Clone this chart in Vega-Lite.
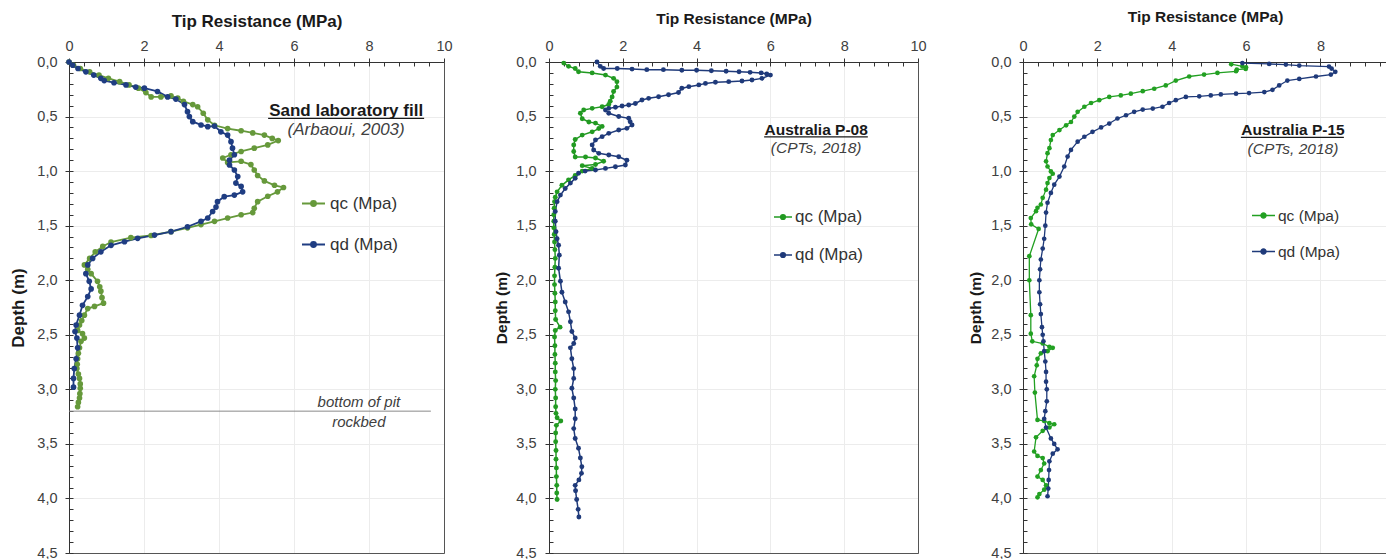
{
  "$schema": "https://vega.github.io/schema/vega-lite/v6.json",
  "padding": {"left": 9, "top": 8, "right": 0, "bottom": 6},
  "autosize": {"type": "pad"},
  "background": "white",
  "config": {
    "font": "Liberation Sans",
    "view": {"stroke": "#555", "strokeWidth": 1},
    "axis": {"labelFont": "Liberation Sans", "titleFont": "Liberation Sans", "domainWidth": 1, "domainColor": "#333"}
  },
  "bounds": "flush",
  "spacing": 105,
  "resolve": {
    "scale": {"color": "independent", "x": "independent", "y": "independent"},
    "legend": {"color": "independent"}
  },
  "datasets": {
    "sand": [
      {"s": "qc (Mpa)", "d": 0.00, "q": 0.00}, {"s": "qc (Mpa)", "d": 0.03, "q": 0.12}, {"s": "qc (Mpa)", "d": 0.06, "q": 0.30},
      {"s": "qc (Mpa)", "d": 0.09, "q": 0.55}, {"s": "qc (Mpa)", "d": 0.12, "q": 0.80}, {"s": "qc (Mpa)", "d": 0.15, "q": 1.05},
      {"s": "qc (Mpa)", "d": 0.18, "q": 1.35}, {"s": "qc (Mpa)", "d": 0.21, "q": 1.60}, {"s": "qc (Mpa)", "d": 0.24, "q": 1.85},
      {"s": "qc (Mpa)", "d": 0.28, "q": 2.05}, {"s": "qc (Mpa)", "d": 0.32, "q": 2.19}, {"s": "qc (Mpa)", "d": 0.32, "q": 2.45},
      {"s": "qc (Mpa)", "d": 0.31, "q": 2.72}, {"s": "qc (Mpa)", "d": 0.33, "q": 2.90}, {"s": "qc (Mpa)", "d": 0.36, "q": 3.05},
      {"s": "qc (Mpa)", "d": 0.39, "q": 3.30}, {"s": "qc (Mpa)", "d": 0.41, "q": 3.43}, {"s": "qc (Mpa)", "d": 0.47, "q": 3.58},
      {"s": "qc (Mpa)", "d": 0.53, "q": 3.70}, {"s": "qc (Mpa)", "d": 0.58, "q": 3.88}, {"s": "qc (Mpa)", "d": 0.61, "q": 4.23},
      {"s": "qc (Mpa)", "d": 0.63, "q": 4.59}, {"s": "qc (Mpa)", "d": 0.65, "q": 4.90}, {"s": "qc (Mpa)", "d": 0.67, "q": 5.21},
      {"s": "qc (Mpa)", "d": 0.70, "q": 5.42}, {"s": "qc (Mpa)", "d": 0.72, "q": 5.58}, {"s": "qc (Mpa)", "d": 0.76, "q": 5.30},
      {"s": "qc (Mpa)", "d": 0.79, "q": 4.94}, {"s": "qc (Mpa)", "d": 0.82, "q": 4.59}, {"s": "qc (Mpa)", "d": 0.85, "q": 4.32},
      {"s": "qc (Mpa)", "d": 0.88, "q": 4.10}, {"s": "qc (Mpa)", "d": 0.92, "q": 4.23}, {"s": "qc (Mpa)", "d": 0.91, "q": 4.59},
      {"s": "qc (Mpa)", "d": 0.94, "q": 4.85}, {"s": "qc (Mpa)", "d": 0.99, "q": 4.94}, {"s": "qc (Mpa)", "d": 1.04, "q": 5.03},
      {"s": "qc (Mpa)", "d": 1.09, "q": 5.21}, {"s": "qc (Mpa)", "d": 1.13, "q": 5.48}, {"s": "qc (Mpa)", "d": 1.15, "q": 5.72},
      {"s": "qc (Mpa)", "d": 1.19, "q": 5.56}, {"s": "qc (Mpa)", "d": 1.23, "q": 5.30}, {"s": "qc (Mpa)", "d": 1.28, "q": 5.03},
      {"s": "qc (Mpa)", "d": 1.34, "q": 4.94}, {"s": "qc (Mpa)", "d": 1.38, "q": 4.90}, {"s": "qc (Mpa)", "d": 1.40, "q": 4.59},
      {"s": "qc (Mpa)", "d": 1.43, "q": 4.23}, {"s": "qc (Mpa)", "d": 1.46, "q": 3.88}, {"s": "qc (Mpa)", "d": 1.49, "q": 3.52},
      {"s": "qc (Mpa)", "d": 1.52, "q": 3.16}, {"s": "qc (Mpa)", "d": 1.555, "q": 2.72}, {"s": "qc (Mpa)", "d": 1.59, "q": 2.19},
      {"s": "qc (Mpa)", "d": 1.61, "q": 1.65}, {"s": "qc (Mpa)", "d": 1.65, "q": 1.12}, {"s": "qc (Mpa)", "d": 1.69, "q": 0.90},
      {"s": "qc (Mpa)", "d": 1.74, "q": 0.70}, {"s": "qc (Mpa)", "d": 1.80, "q": 0.55}, {"s": "qc (Mpa)", "d": 1.86, "q": 0.41},
      {"s": "qc (Mpa)", "d": 1.90, "q": 0.50}, {"s": "qc (Mpa)", "d": 1.94, "q": 0.59}, {"s": "qc (Mpa)", "d": 2.01, "q": 0.76},
      {"s": "qc (Mpa)", "d": 2.06, "q": 0.82}, {"s": "qc (Mpa)", "d": 2.10, "q": 0.85}, {"s": "qc (Mpa)", "d": 2.16, "q": 0.88},
      {"s": "qc (Mpa)", "d": 2.21, "q": 0.92}, {"s": "qc (Mpa)", "d": 2.24, "q": 0.68}, {"s": "qc (Mpa)", "d": 2.26, "q": 0.50},
      {"s": "qc (Mpa)", "d": 2.32, "q": 0.41}, {"s": "qc (Mpa)", "d": 2.37, "q": 0.34}, {"s": "qc (Mpa)", "d": 2.41, "q": 0.28},
      {"s": "qc (Mpa)", "d": 2.46, "q": 0.23}, {"s": "qc (Mpa)", "d": 2.49, "q": 0.36}, {"s": "qc (Mpa)", "d": 2.53, "q": 0.41},
      {"s": "qc (Mpa)", "d": 2.56, "q": 0.32}, {"s": "qc (Mpa)", "d": 2.62, "q": 0.28}, {"s": "qc (Mpa)", "d": 2.67, "q": 0.25},
      {"s": "qc (Mpa)", "d": 2.72, "q": 0.23}, {"s": "qc (Mpa)", "d": 2.77, "q": 0.22}, {"s": "qc (Mpa)", "d": 2.81, "q": 0.21},
      {"s": "qc (Mpa)", "d": 2.86, "q": 0.25}, {"s": "qc (Mpa)", "d": 2.90, "q": 0.28}, {"s": "qc (Mpa)", "d": 2.95, "q": 0.30},
      {"s": "qc (Mpa)", "d": 2.99, "q": 0.30}, {"s": "qc (Mpa)", "d": 3.04, "q": 0.29}, {"s": "qc (Mpa)", "d": 3.08, "q": 0.28},
      {"s": "qc (Mpa)", "d": 3.12, "q": 0.25}, {"s": "qc (Mpa)", "d": 3.16, "q": 0.23},
      {"s": "qd (Mpa)", "d": 0.00, "q": 0.00}, {"s": "qd (Mpa)", "d": 0.03, "q": 0.10}, {"s": "qd (Mpa)", "d": 0.06, "q": 0.24},
      {"s": "qd (Mpa)", "d": 0.09, "q": 0.45}, {"s": "qd (Mpa)", "d": 0.12, "q": 0.66}, {"s": "qd (Mpa)", "d": 0.15, "q": 0.85},
      {"s": "qd (Mpa)", "d": 0.17, "q": 0.94}, {"s": "qd (Mpa)", "d": 0.19, "q": 1.20}, {"s": "qd (Mpa)", "d": 0.21, "q": 1.52},
      {"s": "qd (Mpa)", "d": 0.23, "q": 1.78}, {"s": "qd (Mpa)", "d": 0.24, "q": 2.01}, {"s": "qd (Mpa)", "d": 0.27, "q": 2.36},
      {"s": "qd (Mpa)", "d": 0.32, "q": 2.63}, {"s": "qd (Mpa)", "d": 0.34, "q": 2.85}, {"s": "qd (Mpa)", "d": 0.39, "q": 3.08},
      {"s": "qd (Mpa)", "d": 0.455, "q": 3.16}, {"s": "qd (Mpa)", "d": 0.50, "q": 3.21}, {"s": "qd (Mpa)", "d": 0.547, "q": 3.30},
      {"s": "qd (Mpa)", "d": 0.577, "q": 3.52}, {"s": "qd (Mpa)", "d": 0.593, "q": 3.70}, {"s": "qd (Mpa)", "d": 0.587, "q": 3.88},
      {"s": "qd (Mpa)", "d": 0.64, "q": 4.05}, {"s": "qd (Mpa)", "d": 0.67, "q": 4.23}, {"s": "qd (Mpa)", "d": 0.73, "q": 4.32},
      {"s": "qd (Mpa)", "d": 0.79, "q": 4.36}, {"s": "qd (Mpa)", "d": 0.85, "q": 4.41}, {"s": "qd (Mpa)", "d": 0.90, "q": 4.28},
      {"s": "qd (Mpa)", "d": 0.944, "q": 4.28}, {"s": "qd (Mpa)", "d": 0.99, "q": 4.41}, {"s": "qd (Mpa)", "d": 1.05, "q": 4.50},
      {"s": "qd (Mpa)", "d": 1.11, "q": 4.45}, {"s": "qd (Mpa)", "d": 1.14, "q": 4.59}, {"s": "qd (Mpa)", "d": 1.19, "q": 4.63},
      {"s": "qd (Mpa)", "d": 1.22, "q": 4.41}, {"s": "qd (Mpa)", "d": 1.234, "q": 4.14}, {"s": "qd (Mpa)", "d": 1.28, "q": 3.96},
      {"s": "qd (Mpa)", "d": 1.33, "q": 3.92}, {"s": "qd (Mpa)", "d": 1.37, "q": 3.83}, {"s": "qd (Mpa)", "d": 1.43, "q": 3.70},
      {"s": "qd (Mpa)", "d": 1.46, "q": 3.52}, {"s": "qd (Mpa)", "d": 1.51, "q": 3.16}, {"s": "qd (Mpa)", "d": 1.555, "q": 2.72},
      {"s": "qd (Mpa)", "d": 1.586, "q": 2.28}, {"s": "qd (Mpa)", "d": 1.616, "q": 1.83}, {"s": "qd (Mpa)", "d": 1.647, "q": 1.48},
      {"s": "qd (Mpa)", "d": 1.68, "q": 1.12}, {"s": "qd (Mpa)", "d": 1.74, "q": 0.85}, {"s": "qd (Mpa)", "d": 1.80, "q": 0.63},
      {"s": "qd (Mpa)", "d": 1.86, "q": 0.50}, {"s": "qd (Mpa)", "d": 1.94, "q": 0.45}, {"s": "qd (Mpa)", "d": 2.01, "q": 0.54},
      {"s": "qd (Mpa)", "d": 2.08, "q": 0.59}, {"s": "qd (Mpa)", "d": 2.15, "q": 0.50}, {"s": "qd (Mpa)", "d": 2.23, "q": 0.36},
      {"s": "qd (Mpa)", "d": 2.32, "q": 0.28}, {"s": "qd (Mpa)", "d": 2.41, "q": 0.19}, {"s": "qd (Mpa)", "d": 2.47, "q": 0.16},
      {"s": "qd (Mpa)", "d": 2.53, "q": 0.21}, {"s": "qd (Mpa)", "d": 2.62, "q": 0.23}, {"s": "qd (Mpa)", "d": 2.72, "q": 0.19},
      {"s": "qd (Mpa)", "d": 2.81, "q": 0.14}, {"s": "qd (Mpa)", "d": 2.90, "q": 0.12}, {"s": "qd (Mpa)", "d": 2.98, "q": 0.12}
    ],
    "p08": [
      {"s": "qc (Mpa)", "d": 0.01, "q": 0.40}, {"s": "qc (Mpa)", "d": 0.04, "q": 0.53}, {"s": "qc (Mpa)", "d": 0.06, "q": 0.71},
      {"s": "qc (Mpa)", "d": 0.09, "q": 0.80}, {"s": "qc (Mpa)", "d": 0.10, "q": 1.17}, {"s": "qc (Mpa)", "d": 0.12, "q": 1.53},
      {"s": "qc (Mpa)", "d": 0.15, "q": 1.75}, {"s": "qc (Mpa)", "d": 0.18, "q": 1.84}, {"s": "qc (Mpa)", "d": 0.23, "q": 1.84},
      {"s": "qc (Mpa)", "d": 0.27, "q": 1.75}, {"s": "qc (Mpa)", "d": 0.32, "q": 1.71}, {"s": "qc (Mpa)", "d": 0.36, "q": 1.66},
      {"s": "qc (Mpa)", "d": 0.39, "q": 1.62}, {"s": "qc (Mpa)", "d": 0.41, "q": 1.44}, {"s": "qc (Mpa)", "d": 0.425, "q": 1.17},
      {"s": "qc (Mpa)", "d": 0.44, "q": 0.94}, {"s": "qc (Mpa)", "d": 0.47, "q": 0.85}, {"s": "qc (Mpa)", "d": 0.52, "q": 0.90},
      {"s": "qc (Mpa)", "d": 0.55, "q": 1.08}, {"s": "qc (Mpa)", "d": 0.56, "q": 1.26}, {"s": "qc (Mpa)", "d": 0.59, "q": 1.44},
      {"s": "qc (Mpa)", "d": 0.61, "q": 1.35}, {"s": "qc (Mpa)", "d": 0.64, "q": 1.17}, {"s": "qc (Mpa)", "d": 0.67, "q": 0.90},
      {"s": "qc (Mpa)", "d": 0.71, "q": 0.71}, {"s": "qc (Mpa)", "d": 0.76, "q": 0.67}, {"s": "qc (Mpa)", "d": 0.82, "q": 0.67},
      {"s": "qc (Mpa)", "d": 0.87, "q": 0.71}, {"s": "qc (Mpa)", "d": 0.87, "q": 0.99}, {"s": "qc (Mpa)", "d": 0.88, "q": 1.26},
      {"s": "qc (Mpa)", "d": 0.91, "q": 1.48}, {"s": "qc (Mpa)", "d": 0.94, "q": 1.26}, {"s": "qc (Mpa)", "d": 0.95, "q": 0.90},
      {"s": "qc (Mpa)", "d": 0.975, "q": 1.17}, {"s": "qc (Mpa)", "d": 1.00, "q": 0.90}, {"s": "qc (Mpa)", "d": 1.04, "q": 0.71},
      {"s": "qc (Mpa)", "d": 1.08, "q": 0.53}, {"s": "qc (Mpa)", "d": 1.13, "q": 0.35}, {"s": "qc (Mpa)", "d": 1.19, "q": 0.22},
      {"s": "qc (Mpa)", "d": 1.24, "q": 0.17}, {"s": "qc (Mpa)", "d": 1.28, "q": 0.15}, {"s": "qc (Mpa)", "d": 1.34, "q": 0.14},
      {"s": "qc (Mpa)", "d": 1.40, "q": 0.13}, {"s": "qc (Mpa)", "d": 1.46, "q": 0.13}, {"s": "qc (Mpa)", "d": 1.52, "q": 0.13},
      {"s": "qc (Mpa)", "d": 1.58, "q": 0.14}, {"s": "qc (Mpa)", "d": 1.65, "q": 0.15}, {"s": "qc (Mpa)", "d": 1.72, "q": 0.16},
      {"s": "qc (Mpa)", "d": 1.80, "q": 0.17}, {"s": "qc (Mpa)", "d": 1.88, "q": 0.16}, {"s": "qc (Mpa)", "d": 1.96, "q": 0.15},
      {"s": "qc (Mpa)", "d": 2.04, "q": 0.15}, {"s": "qc (Mpa)", "d": 2.12, "q": 0.16}, {"s": "qc (Mpa)", "d": 2.20, "q": 0.17},
      {"s": "qc (Mpa)", "d": 2.28, "q": 0.17}, {"s": "qc (Mpa)", "d": 2.36, "q": 0.18}, {"s": "qc (Mpa)", "d": 2.43, "q": 0.30},
      {"s": "qc (Mpa)", "d": 2.46, "q": 0.17}, {"s": "qc (Mpa)", "d": 2.52, "q": 0.15}, {"s": "qc (Mpa)", "d": 2.60, "q": 0.16},
      {"s": "qc (Mpa)", "d": 2.68, "q": 0.16}, {"s": "qc (Mpa)", "d": 2.76, "q": 0.17}, {"s": "qc (Mpa)", "d": 2.84, "q": 0.17},
      {"s": "qc (Mpa)", "d": 2.92, "q": 0.18}, {"s": "qc (Mpa)", "d": 3.00, "q": 0.17}, {"s": "qc (Mpa)", "d": 3.08, "q": 0.18},
      {"s": "qc (Mpa)", "d": 3.16, "q": 0.18}, {"s": "qc (Mpa)", "d": 3.22, "q": 0.19}, {"s": "qc (Mpa)", "d": 3.26, "q": 0.22},
      {"s": "qc (Mpa)", "d": 3.29, "q": 0.32}, {"s": "qc (Mpa)", "d": 3.33, "q": 0.20}, {"s": "qc (Mpa)", "d": 3.40, "q": 0.18},
      {"s": "qc (Mpa)", "d": 3.48, "q": 0.18}, {"s": "qc (Mpa)", "d": 3.56, "q": 0.19}, {"s": "qc (Mpa)", "d": 3.64, "q": 0.19},
      {"s": "qc (Mpa)", "d": 3.72, "q": 0.20}, {"s": "qc (Mpa)", "d": 3.80, "q": 0.20}, {"s": "qc (Mpa)", "d": 3.88, "q": 0.21},
      {"s": "qc (Mpa)", "d": 3.95, "q": 0.21}, {"s": "qc (Mpa)", "d": 4.01, "q": 0.22},
      {"s": "qd (Mpa)", "d": 0.00, "q": 1.30}, {"s": "qd (Mpa)", "d": 0.04, "q": 1.39}, {"s": "qd (Mpa)", "d": 0.06, "q": 1.48},
      {"s": "qd (Mpa)", "d": 0.06, "q": 1.85}, {"s": "qd (Mpa)", "d": 0.065, "q": 2.25}, {"s": "qd (Mpa)", "d": 0.07, "q": 2.65},
      {"s": "qd (Mpa)", "d": 0.07, "q": 3.10}, {"s": "qd (Mpa)", "d": 0.075, "q": 3.60}, {"s": "qd (Mpa)", "d": 0.075, "q": 4.00},
      {"s": "qd (Mpa)", "d": 0.08, "q": 4.40}, {"s": "qd (Mpa)", "d": 0.085, "q": 4.80}, {"s": "qd (Mpa)", "d": 0.09, "q": 5.15},
      {"s": "qd (Mpa)", "d": 0.095, "q": 5.45}, {"s": "qd (Mpa)", "d": 0.10, "q": 5.75}, {"s": "qd (Mpa)", "d": 0.11, "q": 5.90},
      {"s": "qd (Mpa)", "d": 0.12, "q": 6.00}, {"s": "qd (Mpa)", "d": 0.15, "q": 5.77}, {"s": "qd (Mpa)", "d": 0.165, "q": 5.50},
      {"s": "qd (Mpa)", "d": 0.174, "q": 5.23}, {"s": "qd (Mpa)", "d": 0.18, "q": 4.87}, {"s": "qd (Mpa)", "d": 0.186, "q": 4.51},
      {"s": "qd (Mpa)", "d": 0.196, "q": 4.24}, {"s": "qd (Mpa)", "d": 0.21, "q": 4.06}, {"s": "qd (Mpa)", "d": 0.226, "q": 3.79},
      {"s": "qd (Mpa)", "d": 0.24, "q": 3.60}, {"s": "qd (Mpa)", "d": 0.28, "q": 3.51}, {"s": "qd (Mpa)", "d": 0.30, "q": 3.24},
      {"s": "qd (Mpa)", "d": 0.318, "q": 2.97}, {"s": "qd (Mpa)", "d": 0.333, "q": 2.70}, {"s": "qd (Mpa)", "d": 0.348, "q": 2.52},
      {"s": "qd (Mpa)", "d": 0.38, "q": 2.34}, {"s": "qd (Mpa)", "d": 0.394, "q": 2.16}, {"s": "qd (Mpa)", "d": 0.403, "q": 1.98},
      {"s": "qd (Mpa)", "d": 0.415, "q": 1.80}, {"s": "qd (Mpa)", "d": 0.425, "q": 1.62}, {"s": "qd (Mpa)", "d": 0.44, "q": 1.53},
      {"s": "qd (Mpa)", "d": 0.47, "q": 1.62}, {"s": "qd (Mpa)", "d": 0.50, "q": 1.89}, {"s": "qd (Mpa)", "d": 0.516, "q": 2.16},
      {"s": "qd (Mpa)", "d": 0.547, "q": 2.20}, {"s": "qd (Mpa)", "d": 0.577, "q": 2.25}, {"s": "qd (Mpa)", "d": 0.608, "q": 2.11},
      {"s": "qd (Mpa)", "d": 0.623, "q": 1.89}, {"s": "qd (Mpa)", "d": 0.654, "q": 1.62}, {"s": "qd (Mpa)", "d": 0.684, "q": 1.44},
      {"s": "qd (Mpa)", "d": 0.715, "q": 1.26}, {"s": "qd (Mpa)", "d": 0.76, "q": 1.17}, {"s": "qd (Mpa)", "d": 0.807, "q": 1.21},
      {"s": "qd (Mpa)", "d": 0.837, "q": 1.35}, {"s": "qd (Mpa)", "d": 0.852, "q": 1.62}, {"s": "qd (Mpa)", "d": 0.868, "q": 1.89},
      {"s": "qd (Mpa)", "d": 0.90, "q": 2.11}, {"s": "qd (Mpa)", "d": 0.944, "q": 2.07}, {"s": "qd (Mpa)", "d": 0.96, "q": 1.80},
      {"s": "qd (Mpa)", "d": 0.975, "q": 1.53}, {"s": "qd (Mpa)", "d": 0.99, "q": 1.26}, {"s": "qd (Mpa)", "d": 1.00, "q": 0.98},
      {"s": "qd (Mpa)", "d": 1.02, "q": 0.80}, {"s": "qd (Mpa)", "d": 1.066, "q": 0.71}, {"s": "qd (Mpa)", "d": 1.11, "q": 0.58},
      {"s": "qd (Mpa)", "d": 1.16, "q": 0.44}, {"s": "qd (Mpa)", "d": 1.22, "q": 0.31}, {"s": "qd (Mpa)", "d": 1.28, "q": 0.22},
      {"s": "qd (Mpa)", "d": 1.37, "q": 0.17}, {"s": "qd (Mpa)", "d": 1.46, "q": 0.17}, {"s": "qd (Mpa)", "d": 1.555, "q": 0.19},
      {"s": "qd (Mpa)", "d": 1.62, "q": 0.22}, {"s": "qd (Mpa)", "d": 1.68, "q": 0.26}, {"s": "qd (Mpa)", "d": 1.77, "q": 0.28},
      {"s": "qd (Mpa)", "d": 1.89, "q": 0.26}, {"s": "qd (Mpa)", "d": 2.01, "q": 0.31}, {"s": "qd (Mpa)", "d": 2.11, "q": 0.35},
      {"s": "qd (Mpa)", "d": 2.20, "q": 0.44}, {"s": "qd (Mpa)", "d": 2.29, "q": 0.53}, {"s": "qd (Mpa)", "d": 2.38, "q": 0.58},
      {"s": "qd (Mpa)", "d": 2.47, "q": 0.62}, {"s": "qd (Mpa)", "d": 2.53, "q": 0.71}, {"s": "qd (Mpa)", "d": 2.58, "q": 0.67},
      {"s": "qd (Mpa)", "d": 2.62, "q": 0.58}, {"s": "qd (Mpa)", "d": 2.72, "q": 0.62}, {"s": "qd (Mpa)", "d": 2.81, "q": 0.67},
      {"s": "qd (Mpa)", "d": 2.90, "q": 0.67}, {"s": "qd (Mpa)", "d": 2.99, "q": 0.62}, {"s": "qd (Mpa)", "d": 3.08, "q": 0.67},
      {"s": "qd (Mpa)", "d": 3.18, "q": 0.71}, {"s": "qd (Mpa)", "d": 3.27, "q": 0.71}, {"s": "qd (Mpa)", "d": 3.36, "q": 0.67},
      {"s": "qd (Mpa)", "d": 3.45, "q": 0.71}, {"s": "qd (Mpa)", "d": 3.54, "q": 0.80}, {"s": "qd (Mpa)", "d": 3.63, "q": 0.85},
      {"s": "qd (Mpa)", "d": 3.71, "q": 0.89}, {"s": "qd (Mpa)", "d": 3.77, "q": 0.88}, {"s": "qd (Mpa)", "d": 3.83, "q": 0.81},
      {"s": "qd (Mpa)", "d": 3.88, "q": 0.71}, {"s": "qd (Mpa)", "d": 3.93, "q": 0.72}, {"s": "qd (Mpa)", "d": 4.01, "q": 0.75},
      {"s": "qd (Mpa)", "d": 4.10, "q": 0.79}, {"s": "qd (Mpa)", "d": 4.17, "q": 0.81}
    ],
    "p15": [
      {"s": "qc (Mpa)", "d": 0.02, "q": 5.60}, {"s": "qc (Mpa)", "d": 0.04, "q": 5.90}, {"s": "qc (Mpa)", "d": 0.05, "q": 6.00},
      {"s": "qc (Mpa)", "d": 0.064, "q": 5.99}, {"s": "qc (Mpa)", "d": 0.07, "q": 5.75}, {"s": "qc (Mpa)", "d": 0.085, "q": 5.73},
      {"s": "qc (Mpa)", "d": 0.10, "q": 5.23}, {"s": "qc (Mpa)", "d": 0.115, "q": 4.87}, {"s": "qc (Mpa)", "d": 0.133, "q": 4.47},
      {"s": "qc (Mpa)", "d": 0.17, "q": 4.11}, {"s": "qc (Mpa)", "d": 0.215, "q": 3.84}, {"s": "qc (Mpa)", "d": 0.245, "q": 3.53},
      {"s": "qc (Mpa)", "d": 0.267, "q": 3.22}, {"s": "qc (Mpa)", "d": 0.29, "q": 2.90}, {"s": "qc (Mpa)", "d": 0.306, "q": 2.63},
      {"s": "qc (Mpa)", "d": 0.32, "q": 2.32}, {"s": "qc (Mpa)", "d": 0.35, "q": 2.05}, {"s": "qc (Mpa)", "d": 0.376, "q": 1.83},
      {"s": "qc (Mpa)", "d": 0.41, "q": 1.65}, {"s": "qc (Mpa)", "d": 0.457, "q": 1.47}, {"s": "qc (Mpa)", "d": 0.50, "q": 1.38},
      {"s": "qc (Mpa)", "d": 0.55, "q": 1.29}, {"s": "qc (Mpa)", "d": 0.58, "q": 1.16}, {"s": "qc (Mpa)", "d": 0.624, "q": 0.98},
      {"s": "qc (Mpa)", "d": 0.67, "q": 0.80}, {"s": "qc (Mpa)", "d": 0.715, "q": 0.75}, {"s": "qc (Mpa)", "d": 0.79, "q": 0.71},
      {"s": "qc (Mpa)", "d": 0.836, "q": 0.66}, {"s": "qc (Mpa)", "d": 0.91, "q": 0.62}, {"s": "qc (Mpa)", "d": 0.958, "q": 0.66},
      {"s": "qc (Mpa)", "d": 1.003, "q": 0.75}, {"s": "qc (Mpa)", "d": 1.024, "q": 0.80}, {"s": "qc (Mpa)", "d": 1.064, "q": 0.71},
      {"s": "qc (Mpa)", "d": 1.11, "q": 0.66}, {"s": "qc (Mpa)", "d": 1.17, "q": 0.62}, {"s": "qc (Mpa)", "d": 1.245, "q": 0.53},
      {"s": "qc (Mpa)", "d": 1.306, "q": 0.48}, {"s": "qc (Mpa)", "d": 1.336, "q": 0.39}, {"s": "qc (Mpa)", "d": 1.367, "q": 0.35},
      {"s": "qc (Mpa)", "d": 1.43, "q": 0.21}, {"s": "qc (Mpa)", "d": 1.488, "q": 0.22}, {"s": "qc (Mpa)", "d": 1.53, "q": 0.42},
      {"s": "qc (Mpa)", "d": 1.78, "q": 0.17}, {"s": "qc (Mpa)", "d": 2.00, "q": 0.17}, {"s": "qc (Mpa)", "d": 2.32, "q": 0.21},
      {"s": "qc (Mpa)", "d": 2.49, "q": 0.21}, {"s": "qc (Mpa)", "d": 2.56, "q": 0.25}, {"s": "qc (Mpa)", "d": 2.58, "q": 0.53},
      {"s": "qc (Mpa)", "d": 2.61, "q": 0.71}, {"s": "qc (Mpa)", "d": 2.62, "q": 0.80}, {"s": "qc (Mpa)", "d": 2.65, "q": 0.66},
      {"s": "qc (Mpa)", "d": 2.67, "q": 0.48}, {"s": "qc (Mpa)", "d": 2.72, "q": 0.39}, {"s": "qc (Mpa)", "d": 2.78, "q": 0.37},
      {"s": "qc (Mpa)", "d": 2.88, "q": 0.30}, {"s": "qc (Mpa)", "d": 3.03, "q": 0.32}, {"s": "qc (Mpa)", "d": 3.28, "q": 0.39},
      {"s": "qc (Mpa)", "d": 3.29, "q": 0.57}, {"s": "qc (Mpa)", "d": 3.31, "q": 0.71}, {"s": "qc (Mpa)", "d": 3.32, "q": 0.84},
      {"s": "qc (Mpa)", "d": 3.35, "q": 0.71}, {"s": "qc (Mpa)", "d": 3.38, "q": 0.53}, {"s": "qc (Mpa)", "d": 3.44, "q": 0.35},
      {"s": "qc (Mpa)", "d": 3.57, "q": 0.30}, {"s": "qc (Mpa)", "d": 3.61, "q": 0.39}, {"s": "qc (Mpa)", "d": 3.63, "q": 0.53},
      {"s": "qc (Mpa)", "d": 3.68, "q": 0.57}, {"s": "qc (Mpa)", "d": 3.74, "q": 0.48}, {"s": "qc (Mpa)", "d": 3.80, "q": 0.39},
      {"s": "qc (Mpa)", "d": 3.83, "q": 0.53}, {"s": "qc (Mpa)", "d": 3.88, "q": 0.62}, {"s": "qc (Mpa)", "d": 3.92, "q": 0.57},
      {"s": "qc (Mpa)", "d": 3.96, "q": 0.44}, {"s": "qc (Mpa)", "d": 3.99, "q": 0.39},
      {"s": "qd (Mpa)", "d": 0.01, "q": 5.90}, {"s": "qd (Mpa)", "d": 0.018, "q": 6.62}, {"s": "qd (Mpa)", "d": 0.024, "q": 7.07},
      {"s": "qd (Mpa)", "d": 0.033, "q": 7.43}, {"s": "qd (Mpa)", "d": 0.042, "q": 8.23}, {"s": "qd (Mpa)", "d": 0.06, "q": 8.30},
      {"s": "qd (Mpa)", "d": 0.09, "q": 8.40}, {"s": "qd (Mpa)", "d": 0.115, "q": 8.28}, {"s": "qd (Mpa)", "d": 0.133, "q": 7.88},
      {"s": "qd (Mpa)", "d": 0.155, "q": 7.43}, {"s": "qd (Mpa)", "d": 0.17, "q": 7.11}, {"s": "qd (Mpa)", "d": 0.215, "q": 6.89},
      {"s": "qd (Mpa)", "d": 0.255, "q": 6.71}, {"s": "qd (Mpa)", "d": 0.276, "q": 6.49}, {"s": "qd (Mpa)", "d": 0.285, "q": 6.08},
      {"s": "qd (Mpa)", "d": 0.29, "q": 5.73}, {"s": "qd (Mpa)", "d": 0.297, "q": 5.32}, {"s": "qd (Mpa)", "d": 0.306, "q": 5.05},
      {"s": "qd (Mpa)", "d": 0.315, "q": 4.74}, {"s": "qd (Mpa)", "d": 0.32, "q": 4.38}, {"s": "qd (Mpa)", "d": 0.35, "q": 4.11},
      {"s": "qd (Mpa)", "d": 0.376, "q": 3.93}, {"s": "qd (Mpa)", "d": 0.41, "q": 3.75}, {"s": "qd (Mpa)", "d": 0.427, "q": 3.49},
      {"s": "qd (Mpa)", "d": 0.436, "q": 3.22}, {"s": "qd (Mpa)", "d": 0.457, "q": 2.99}, {"s": "qd (Mpa)", "d": 0.488, "q": 2.77},
      {"s": "qd (Mpa)", "d": 0.518, "q": 2.54}, {"s": "qd (Mpa)", "d": 0.564, "q": 2.32}, {"s": "qd (Mpa)", "d": 0.60, "q": 2.10},
      {"s": "qd (Mpa)", "d": 0.64, "q": 1.87}, {"s": "qd (Mpa)", "d": 0.685, "q": 1.65}, {"s": "qd (Mpa)", "d": 0.73, "q": 1.47},
      {"s": "qd (Mpa)", "d": 0.806, "q": 1.29}, {"s": "qd (Mpa)", "d": 0.867, "q": 1.20}, {"s": "qd (Mpa)", "d": 0.958, "q": 1.11},
      {"s": "qd (Mpa)", "d": 1.05, "q": 0.98}, {"s": "qd (Mpa)", "d": 1.124, "q": 0.84}, {"s": "qd (Mpa)", "d": 1.20, "q": 0.75},
      {"s": "qd (Mpa)", "d": 1.29, "q": 0.66}, {"s": "qd (Mpa)", "d": 1.38, "q": 0.62}, {"s": "qd (Mpa)", "d": 1.50, "q": 0.60},
      {"s": "qd (Mpa)", "d": 1.62, "q": 0.57}, {"s": "qd (Mpa)", "d": 1.71, "q": 0.53}, {"s": "qd (Mpa)", "d": 1.81, "q": 0.48},
      {"s": "qd (Mpa)", "d": 1.90, "q": 0.46}, {"s": "qd (Mpa)", "d": 2.00, "q": 0.44}, {"s": "qd (Mpa)", "d": 2.11, "q": 0.44},
      {"s": "qd (Mpa)", "d": 2.22, "q": 0.46}, {"s": "qd (Mpa)", "d": 2.31, "q": 0.48}, {"s": "qd (Mpa)", "d": 2.43, "q": 0.51},
      {"s": "qd (Mpa)", "d": 2.50, "q": 0.53}, {"s": "qd (Mpa)", "d": 2.56, "q": 0.55}, {"s": "qd (Mpa)", "d": 2.65, "q": 0.57},
      {"s": "qd (Mpa)", "d": 2.745, "q": 0.60}, {"s": "qd (Mpa)", "d": 2.84, "q": 0.62}, {"s": "qd (Mpa)", "d": 2.93, "q": 0.62},
      {"s": "qd (Mpa)", "d": 3.00, "q": 0.64}, {"s": "qd (Mpa)", "d": 3.11, "q": 0.64}, {"s": "qd (Mpa)", "d": 3.20, "q": 0.60},
      {"s": "qd (Mpa)", "d": 3.27, "q": 0.57}, {"s": "qd (Mpa)", "d": 3.35, "q": 0.62}, {"s": "qd (Mpa)", "d": 3.45, "q": 0.75},
      {"s": "qd (Mpa)", "d": 3.50, "q": 0.84}, {"s": "qd (Mpa)", "d": 3.55, "q": 0.93}, {"s": "qd (Mpa)", "d": 3.59, "q": 0.80},
      {"s": "qd (Mpa)", "d": 3.66, "q": 0.71}, {"s": "qd (Mpa)", "d": 3.74, "q": 0.70}, {"s": "qd (Mpa)", "d": 3.83, "q": 0.69},
      {"s": "qd (Mpa)", "d": 3.91, "q": 0.68}, {"s": "qd (Mpa)", "d": 3.98, "q": 0.66}
    ]
  },
  "hconcat": [
    {
      "width": 375,
      "height": 491,
      "view": {"stroke": "#555"},
      "resolve": {"axis": {"x": "independent", "y": "independent"}},
      "layer": [
        {
          "data": {"values": [{}]},
          "mark": {"type": "point", "opacity": 0},
          "encoding": {
            "x": {"datum": 0, "type": "quantitative", "scale": {"domain": [0, 10], "nice": false},
              "axis": {"orient": "bottom", "labels": false, "ticks": false, "grid": false, "title": null, "domain": true, "domainColor": "#555", "domainWidth": 1}},
            "y": {"datum": 0, "type": "quantitative", "scale": {"domain": [0, 4.5], "reverse": true, "nice": false},
              "axis": {"orient": "right", "labels": false, "ticks": false, "grid": false, "title": null, "domain": true, "domainColor": "#555", "domainWidth": 1}}
          }
        },
        {
          "data": {"name": "sand"},
          "mark": {"type": "line", "strokeWidth": 1.8, "point": {"filled": true, "size": 32}},
          "encoding": {
            "x": {"field": "q", "type": "quantitative",
              "axis": {"orient": "top", "values": [0, 2, 4, 6, 8, 10], "format": "d", "title": "Tip Resistance (MPa)",
                "titleFontSize": 17, "titleFontWeight": "bold", "titleColor": "#1a1a1a", "titlePadding": 8,
                "labelFontSize": 14.5, "labelColor": "#404040", "labelPadding": 5, "labelFlush": false,
                "tickSize": 4, "tickColor": "#333", "domain": true, "domainColor": "#333", "grid": true, "gridColor": "#ececec"}},
            "y": {"field": "d", "type": "quantitative",
              "axis": {"orient": "left", "values": [0, 0.5, 1, 1.5, 2, 2.5, 3, 3.5, 4, 4.5],
                "labelExpr": "replace(format(datum.value, '.1f'), '.', ',')", "title": "Depth (m)",
                "titleFontSize": 17, "titleFontWeight": "bold", "titleColor": "#1a1a1a", "titlePadding": 9,
                "labelFontSize": 14.5, "labelColor": "#404040", "labelPadding": 8, "labelFlush": false,
                "tickSize": 4, "tickColor": "#333", "domain": true, "domainColor": "#333", "grid": true, "gridColor": "#ececec"}},
            "color": {"field": "s", "type": "nominal",
              "scale": {"domain": ["qc (Mpa)", "qd (Mpa)"], "range": ["#66993b", "#1f3d82"]},
              "legend": {"orient": "none", "legendX": 232, "legendY": 129, "title": null,
                "symbolType": "M-1,0H1M0.22,0A0.22,0.22,0,1,1,-0.22,0A0.22,0.22,0,1,1,0.22,0Z",
                "symbolSize": 529, "symbolStrokeWidth": 1.8, "labelFontSize": 17, "labelColor": "#333",
                "rowPadding": 20, "labelOffset": 4}},
            "order": {"value": null}
          }
        },
        {
          "data": {"values": [{}]},
          "mark": {"type": "point", "opacity": 0},
          "encoding": {
            "x": {"datum": 0, "type": "quantitative",
              "axis": {"orient": "top", "values": [0, 0.4, 0.8, 1.2, 1.6, 2, 2.4, 2.8, 3.2, 3.6, 4, 4.4, 4.8, 5.2, 5.6, 6, 6.4, 6.8, 7.2, 7.6, 8, 8.4, 8.8, 9.2, 9.6, 10],
                "labels": false, "domain": false, "grid": false, "title": null, "tickSize": -4, "tickColor": "#333"}},
            "y": {"datum": 0, "type": "quantitative",
              "axis": {"orient": "left", "values": [0, 0.1, 0.2, 0.3, 0.4, 0.5, 0.6, 0.7, 0.8, 0.9, 1, 1.1, 1.2, 1.3, 1.4, 1.5, 1.6, 1.7, 1.8, 1.9, 2, 2.1, 2.2, 2.3, 2.4, 2.5, 2.6, 2.7, 2.8, 2.9, 3, 3.1, 3.2, 3.3, 3.4, 3.5, 3.6, 3.7, 3.8, 3.9, 4, 4.1, 4.2, 4.3, 4.4, 4.5],
                "labels": false, "domain": false, "grid": false, "title": null, "tickSize": -4, "tickColor": "#333"}}
          }
        },
        {
          "data": {"values": [{}]},
          "mark": {"type": "rule", "color": "#8a8a8a", "strokeWidth": 1},
          "encoding": {
            "x": {"datum": 0, "type": "quantitative", "axis": null},
            "x2": {"datum": 9.65},
            "y": {"datum": 3.2, "type": "quantitative", "axis": null}
          }
        },
        {
          "data": {"values": [{}]},
          "mark": {"type": "rule", "color": "#1a1a1a", "strokeWidth": 1.2},
          "encoding": {
            "x": {"datum": 5.31, "type": "quantitative", "axis": null},
            "x2": {"datum": 9.47},
            "y": {"datum": 0.516, "type": "quantitative", "axis": null}
          }
        },
        {
          "data": {"values": [{}]},
          "mark": {"type": "text", "text": "Sand laboratory fill", "font": "Liberation Sans", "fontSize": 17, "fontWeight": "bold", "color": "#1a1a1a", "align": "center", "baseline": "alphabetic"},
          "encoding": {
            "x": {"datum": 7.39, "type": "quantitative", "axis": null},
            "y": {"datum": 0.495, "type": "quantitative", "axis": null}
          }
        },
        {
          "data": {"values": [{}]},
          "mark": {"type": "text", "text": "(Arbaoui, 2003)", "font": "Liberation Sans", "fontSize": 17, "fontStyle": "italic", "color": "#404040", "align": "center", "baseline": "alphabetic"},
          "encoding": {
            "x": {"datum": 7.39, "type": "quantitative", "axis": null},
            "y": {"datum": 0.67, "type": "quantitative", "axis": null}
          }
        },
        {
          "data": {"values": [{}]},
          "mark": {"type": "text", "text": "bottom of pit", "font": "Liberation Sans", "fontSize": 15, "fontStyle": "italic", "color": "#404040", "align": "center", "baseline": "alphabetic"},
          "encoding": {
            "x": {"datum": 7.73, "type": "quantitative", "axis": null},
            "y": {"datum": 3.16, "type": "quantitative", "axis": null}
          }
        },
        {
          "data": {"values": [{}]},
          "mark": {"type": "text", "text": "rockbed", "font": "Liberation Sans", "fontSize": 15, "fontStyle": "italic", "color": "#404040", "align": "center", "baseline": "alphabetic"},
          "encoding": {
            "x": {"datum": 7.73, "type": "quantitative", "axis": null},
            "y": {"datum": 3.345, "type": "quantitative", "axis": null}
          }
        }
      ]
    },
    {
      "width": 369,
      "height": 491,
      "view": {"stroke": "#555"},
      "resolve": {"axis": {"x": "independent", "y": "independent"}},
      "layer": [
        {
          "data": {"values": [{}]},
          "mark": {"type": "point", "opacity": 0},
          "encoding": {
            "x": {"datum": 0, "type": "quantitative", "scale": {"domain": [0, 10], "nice": false},
              "axis": {"orient": "bottom", "labels": false, "ticks": false, "grid": false, "title": null, "domain": true, "domainColor": "#555", "domainWidth": 1}},
            "y": {"datum": 0, "type": "quantitative", "scale": {"domain": [0, 4.5], "reverse": true, "nice": false},
              "axis": {"orient": "right", "labels": false, "ticks": false, "grid": false, "title": null, "domain": true, "domainColor": "#555", "domainWidth": 1}}
          }
        },
        {
          "data": {"name": "p08"},
          "mark": {"type": "line", "strokeWidth": 1.5, "point": {"filled": true, "size": 24}},
          "encoding": {
            "x": {"field": "q", "type": "quantitative",
              "axis": {"orient": "top", "values": [0, 2, 4, 6, 8, 10], "format": "d", "title": "Tip Resistance (MPa)",
                "titleFontSize": 15.5, "titleFontWeight": "bold", "titleColor": "#1a1a1a", "titlePadding": 12,
                "labelFontSize": 14.5, "labelColor": "#404040", "labelPadding": 5, "labelFlush": false,
                "tickSize": 4, "tickColor": "#333", "domain": true, "domainColor": "#333", "grid": true, "gridColor": "#ececec"}},
            "y": {"field": "d", "type": "quantitative",
              "axis": {"orient": "left", "values": [0, 0.5, 1, 1.5, 2, 2.5, 3, 3.5, 4, 4.5],
                "labelExpr": "replace(format(datum.value, '.1f'), '.', ',')", "title": "Depth (m)",
                "titleFontSize": 15.5, "titleFontWeight": "bold", "titleColor": "#1a1a1a", "titlePadding": 6,
                "labelFontSize": 14.5, "labelColor": "#404040", "labelPadding": 9, "labelFlush": false,
                "tickSize": 4, "tickColor": "#333", "domain": true, "domainColor": "#333", "grid": true, "gridColor": "#ececec"}},
            "color": {"field": "s", "type": "nominal",
              "scale": {"domain": ["qc (Mpa)", "qd (Mpa)"], "range": ["#229a22", "#1f3a7a"]},
              "legend": {"orient": "none", "legendX": 224, "legendY": 145, "title": null,
                "symbolType": "M-1,0H1M0.26,0A0.26,0.26,0,1,1,-0.26,0A0.26,0.26,0,1,1,0.26,0Z",
                "symbolSize": 324, "symbolStrokeWidth": 1.5, "labelFontSize": 17, "labelColor": "#333",
                "rowPadding": 20, "labelOffset": 2}},
            "order": {"value": null}
          }
        },
        {
          "data": {"values": [{}]},
          "mark": {"type": "point", "opacity": 0},
          "encoding": {
            "x": {"datum": 0, "type": "quantitative",
              "axis": {"orient": "top", "values": [0, 0.4, 0.8, 1.2, 1.6, 2, 2.4, 2.8, 3.2, 3.6, 4, 4.4, 4.8, 5.2, 5.6, 6, 6.4, 6.8, 7.2, 7.6, 8, 8.4, 8.8, 9.2, 9.6, 10],
                "labels": false, "domain": false, "grid": false, "title": null, "tickSize": -4, "tickColor": "#333"}},
            "y": {"datum": 0, "type": "quantitative",
              "axis": {"orient": "left", "values": [0, 0.1, 0.2, 0.3, 0.4, 0.5, 0.6, 0.7, 0.8, 0.9, 1, 1.1, 1.2, 1.3, 1.4, 1.5, 1.6, 1.7, 1.8, 1.9, 2, 2.1, 2.2, 2.3, 2.4, 2.5, 2.6, 2.7, 2.8, 2.9, 3, 3.1, 3.2, 3.3, 3.4, 3.5, 3.6, 3.7, 3.8, 3.9, 4, 4.1, 4.2, 4.3, 4.4, 4.5],
                "labels": false, "domain": false, "grid": false, "title": null, "tickSize": -4, "tickColor": "#333"}}
          }
        },
        {
          "data": {"values": [{}]},
          "mark": {"type": "rule", "color": "#1a1a1a", "strokeWidth": 1.2},
          "encoding": {
            "x": {"datum": 5.83, "type": "quantitative", "axis": null},
            "x2": {"datum": 8.64},
            "y": {"datum": 0.687, "type": "quantitative", "axis": null}
          }
        },
        {
          "data": {"values": [{}]},
          "mark": {"type": "text", "text": "Australia P-08", "font": "Liberation Sans", "fontSize": 15.5, "fontWeight": "bold", "color": "#1a1a1a", "align": "center", "baseline": "alphabetic"},
          "encoding": {
            "x": {"datum": 7.24, "type": "quantitative", "axis": null},
            "y": {"datum": 0.665, "type": "quantitative", "axis": null}
          }
        },
        {
          "data": {"values": [{}]},
          "mark": {"type": "text", "text": "(CPTs, 2018)", "font": "Liberation Sans", "fontSize": 15.5, "fontStyle": "italic", "color": "#404040", "align": "center", "baseline": "alphabetic"},
          "encoding": {
            "x": {"datum": 7.24, "type": "quantitative", "axis": null},
            "y": {"datum": 0.834, "type": "quantitative", "axis": null}
          }
        }
      ]
    },
    {
      "width": 364,
      "height": 491,
      "view": {"stroke": "#555"},
      "resolve": {"axis": {"x": "independent", "y": "independent"}},
      "layer": [
        {
          "data": {"values": [{}]},
          "mark": {"type": "point", "opacity": 0},
          "encoding": {
            "x": {"datum": 0, "type": "quantitative", "scale": {"domain": [0, 9.79], "nice": false},
              "axis": {"orient": "bottom", "labels": false, "ticks": false, "grid": false, "title": null, "domain": true, "domainColor": "#555", "domainWidth": 1}},
            "y": {"datum": 0, "type": "quantitative", "scale": {"domain": [0, 4.5], "reverse": true, "nice": false},
              "axis": null}
          }
        },
        {
          "data": {"name": "p15"},
          "mark": {"type": "line", "strokeWidth": 1.3, "point": {"filled": true, "size": 22}},
          "encoding": {
            "x": {"field": "q", "type": "quantitative",
              "axis": {"orient": "top", "values": [0, 2, 4, 6, 8], "format": "d", "title": "Tip Resistance (MPa)",
                "titleFontSize": 15.5, "titleFontWeight": "bold", "titleColor": "#1a1a1a", "titlePadding": 14,
                "labelFontSize": 14.5, "labelColor": "#404040", "labelPadding": 5, "labelFlush": false,
                "tickSize": 4, "tickColor": "#333", "domain": true, "domainColor": "#333", "grid": true, "gridColor": "#ececec"}},
            "y": {"field": "d", "type": "quantitative",
              "axis": {"orient": "left", "values": [0, 0.5, 1, 1.5, 2, 2.5, 3, 3.5, 4, 4.5],
                "labelExpr": "replace(format(datum.value, '.1f'), '.', ',')", "title": "Depth (m)",
                "titleFontSize": 15.5, "titleFontWeight": "bold", "titleColor": "#1a1a1a", "titlePadding": 7,
                "labelFontSize": 14.5, "labelColor": "#404040", "labelPadding": 8, "labelFlush": false,
                "tickSize": 4, "tickColor": "#333", "domain": true, "domainColor": "#333", "grid": true, "gridColor": "#ececec"}},
            "color": {"field": "s", "type": "nominal",
              "scale": {"domain": ["qc (Mpa)", "qd (Mpa)"], "range": ["#22a022", "#1f3a7a"]},
              "legend": {"orient": "none", "legendX": 228, "legendY": 141, "title": null,
                "symbolType": "M-1,0H1M0.22,0A0.22,0.22,0,1,1,-0.22,0A0.22,0.22,0,1,1,0.22,0Z",
                "symbolSize": 529, "symbolStrokeWidth": 1.4, "labelFontSize": 15.5, "labelColor": "#333",
                "rowPadding": 15, "labelOffset": 2}},
            "order": {"value": null}
          }
        },
        {
          "data": {"values": [{}]},
          "mark": {"type": "point", "opacity": 0},
          "encoding": {
            "x": {"datum": 0, "type": "quantitative",
              "axis": {"orient": "top", "values": [0, 0.4, 0.8, 1.2, 1.6, 2, 2.4, 2.8, 3.2, 3.6, 4, 4.4, 4.8, 5.2, 5.6, 6, 6.4, 6.8, 7.2, 7.6, 8, 8.4, 8.8, 9.2, 9.6],
                "labels": false, "domain": false, "grid": false, "title": null, "tickSize": -4, "tickColor": "#333"}},
            "y": {"datum": 0, "type": "quantitative",
              "axis": {"orient": "left", "values": [0, 0.1, 0.2, 0.3, 0.4, 0.5, 0.6, 0.7, 0.8, 0.9, 1, 1.1, 1.2, 1.3, 1.4, 1.5, 1.6, 1.7, 1.8, 1.9, 2, 2.1, 2.2, 2.3, 2.4, 2.5, 2.6, 2.7, 2.8, 2.9, 3, 3.1, 3.2, 3.3, 3.4, 3.5, 3.6, 3.7, 3.8, 3.9, 4, 4.1, 4.2, 4.3, 4.4, 4.5],
                "labels": false, "domain": false, "grid": false, "title": null, "tickSize": -4, "tickColor": "#333"}}
          }
        },
        {
          "data": {"values": [{}]},
          "mark": {"type": "rule", "color": "#1a1a1a", "strokeWidth": 1.2},
          "encoding": {
            "x": {"datum": 5.86, "type": "quantitative", "axis": null},
            "x2": {"datum": 8.63},
            "y": {"datum": 0.69, "type": "quantitative", "axis": null}
          }
        },
        {
          "data": {"values": [{}]},
          "mark": {"type": "text", "text": "Australia P-15", "font": "Liberation Sans", "fontSize": 15.5, "fontWeight": "bold", "color": "#1a1a1a", "align": "center", "baseline": "alphabetic"},
          "encoding": {
            "x": {"datum": 7.26, "type": "quantitative", "axis": null},
            "y": {"datum": 0.665, "type": "quantitative", "axis": null}
          }
        },
        {
          "data": {"values": [{}]},
          "mark": {"type": "text", "text": "(CPTs, 2018)", "font": "Liberation Sans", "fontSize": 15.5, "fontStyle": "italic", "color": "#404040", "align": "center", "baseline": "alphabetic"},
          "encoding": {
            "x": {"datum": 7.26, "type": "quantitative", "axis": null},
            "y": {"datum": 0.845, "type": "quantitative", "axis": null}
          }
        }
      ]
    }
  ]
}
